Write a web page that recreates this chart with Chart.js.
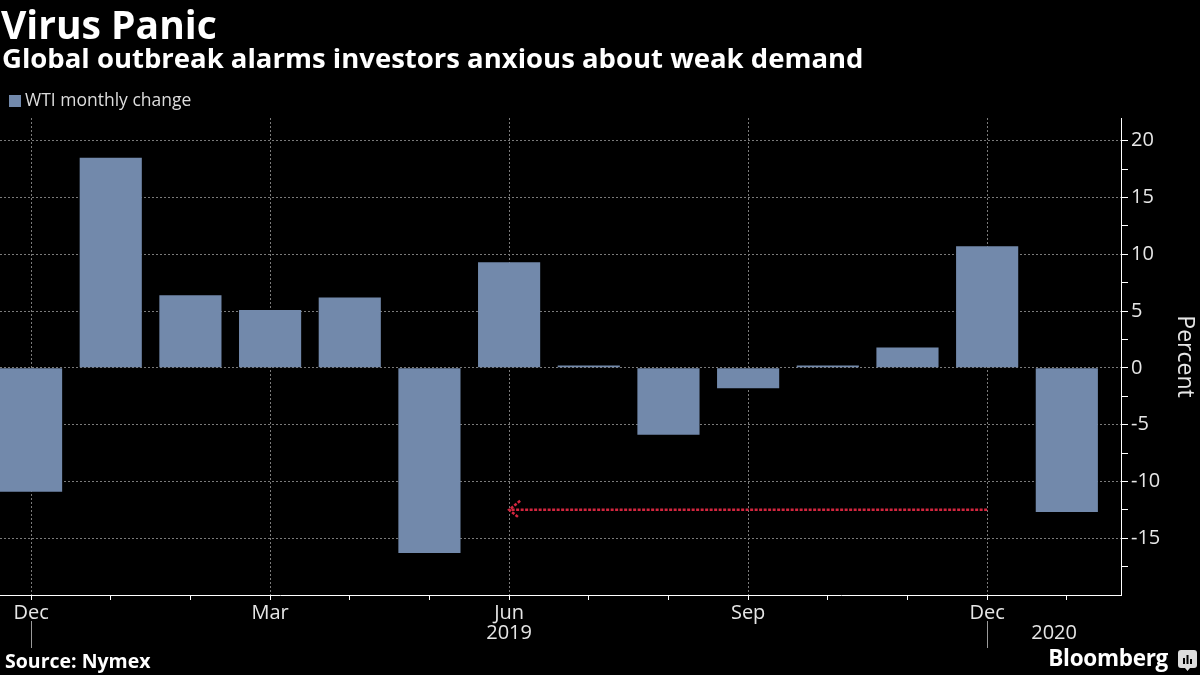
<!DOCTYPE html>
<html>
<head>
<meta charset="utf-8">
<script src="https://cdn.jsdelivr.net/npm/chart.js@4.4.1/dist/chart.umd.min.js"></script>
<style>
  html, body { margin: 0; padding: 0; background: #000; }
  #wrap { position: relative; width: 1200px; height: 675px; overflow: hidden; background: #000;
          font-family: 'Open Sans', sans-serif; color: #fff; }
  #main-chart { position: absolute; left: 0; top: 0; }
  .txt { position: absolute; white-space: nowrap; line-height: 1; }
  #title { left: 1px; top: 4px; font-size: 39px; font-weight: 700; }
  #subtitle { left: 2px; top: 44px; font-size: 27.5px; font-weight: 700; }
  #legend { left: 9px; top: 91px; font-size: 17.5px; color: #ddd; }
  #legend i { display: inline-block; width: 12px; height: 12px; background: #7289ab; margin-right: 4px; vertical-align: -1px; }
  #source { left: 5px; top: 651px; font-size: 19.5px; font-weight: 700; }
  #brand { right: 32px; top: 647px; font-size: 22.5px; font-weight: 700; letter-spacing: -0.3px; }
  #logo { position: absolute; left: 1178px; top: 650px; }
</style>
</head>
<body>
<div id="wrap">
  <canvas id="main-chart" width="1200" height="675"></canvas>
  <div class="txt" id="title">Virus Panic</div>
  <div class="txt" id="subtitle">Global outbreak alarms investors anxious about weak demand</div>
  <div class="txt" id="legend"><i></i>WTI monthly change</div>
  <div class="txt" id="source">Source: Nymex</div>
  <div class="txt" id="brand">Bloomberg</div>
  <svg id="logo" width="19" height="22" viewBox="0 0 19 22">
    <path d="M3 0h13a3 3 0 0 1 3 3v12a3 3 0 0 1-3 3h-4l-2.5 3-2.5-3H3a3 3 0 0 1-3-3V3a3 3 0 0 1 3-3z" fill="#ddd"/>
    <rect x="5" y="8" width="2" height="6" fill="#000"/>
    <rect x="8.5" y="5" width="2" height="9" fill="#000"/>
    <rect x="12" y="9" width="2" height="5" fill="#000"/>
  </svg>
</div>
<script>
// Month-end points, Dec 2018 .. Jan 2020
const months = ['Dec', 'Jan', 'Feb', 'Mar', 'Apr', 'May', 'Jun', 'Jul', 'Aug', 'Sep', 'Oct', 'Nov', 'Dec', 'Jan'];
const xTickLabels = ['Dec', '', '', 'Mar', '', '', 'Jun', '', '', 'Sep', '', '', 'Dec', ''];
const wtiChange = [-10.9, 18.5, 6.4, 5.1, 6.2, -16.3, 9.3, 0.2, -5.9, -1.8, 0.2, 1.8, 10.7, -12.7];

// year labels sit centred on their span of the axis
const yearLabels = ['2019', '2020'];
const yearStarts = [0, 12];

const yTicks = [-17.5, -15, -12.5, -10, -7.5, -5, -2.5, 0, 2.5, 5, 7.5, 10, 12.5, 15, 17.5, 20];
const yTickLabels = [-15, -10, -5, 0, 5, 10, 15, 20];

// red dotted arrow (Dec 2019 back to Jun 2019)
const arrowPoints = [{ x: 12, y: -12.5 }, { x: 6, y: -12.5 }];

const BAR = '#7289ab';
const RED = '#d3263f';
const GRID = '#7a7a7a';
const TXT = '#e6e6e6';
const NONE = 'rgba(0,0,0,0)';
const FONT = "'Open Sans', sans-serif";

const yearPlugin = {
  id: 'years',
  afterDraw(chart) {
    const { ctx, scales: { x } } = chart;
    ctx.save();
    ctx.font = `20px ${FONT}`;
    ctx.fillStyle = TXT;
    ctx.textAlign = 'center';
    ctx.textBaseline = 'middle';
    yearLabels.forEach((label, i) => {
      const start = x.getPixelForValue(yearStarts[i]);
      const end = i + 1 < yearStarts.length ? x.getPixelForValue(yearStarts[i + 1]) : x.right;
      ctx.fillText(label, (start + end) / 2, 633);
      ctx.strokeStyle = '#9a9a9a';
      ctx.lineWidth = 1;
      ctx.beginPath();
      ctx.moveTo(Math.round(start) + 0.5, 621);
      ctx.lineTo(Math.round(start) + 0.5, 648);
      ctx.stroke();
    });
    ctx.restore();
  }
};

const arrowHeadPlugin = {
  id: 'arrowHead',
  afterDatasetsDraw(chart) {
    const { ctx, scales: { x, y } } = chart;
    const tip = arrowPoints[arrowPoints.length - 1];
    const px = x.getPixelForValue(tip.x);
    const py = y.getPixelForValue(tip.y);
    ctx.save();
    ctx.strokeStyle = RED;
    ctx.lineWidth = 2.5;
    ctx.setLineDash([3, 1.5]);
    ctx.beginPath();
    ctx.moveTo(px + 11, py - 9);
    ctx.lineTo(px, py);
    ctx.lineTo(px + 10, py + 8);
    ctx.stroke();
    ctx.restore();
  }
};

new Chart(document.getElementById('main-chart'), {
  type: 'bar',
  data: {
    datasets: [
      {
        type: 'bar',
        label: 'WTI monthly change',
        data: wtiChange.map((v, i) => ({ x: i, y: v })),
        backgroundColor: BAR,
        barPercentage: 0.78,
        categoryPercentage: 1,
        order: 2,
      },
      {
        type: 'line',
        label: 'arrow',
        data: arrowPoints,
        borderColor: RED,
        borderWidth: 2.5,
        borderDash: [3, 1.5],
        pointRadius: 0,
        fill: false,
        order: 1,
      }
    ]
  },
  options: {
    responsive: false,
    animation: false,
    layout: { padding: { top: 118, left: 0, right: 0, bottom: 0 } },
    plugins: { legend: { display: false }, tooltip: { enabled: false } },
    scales: {
      x: {
        type: 'linear',
        position: 'bottom',
        min: -0.39,
        max: 13.68,
        offset: false,
        afterBuildTicks: (s) => { s.ticks = months.map((m, i) => ({ value: i })); },
        afterFit: (s) => { s.height = 80; },
        ticks: {
          autoSkip: false,
          maxRotation: 0,
          padding: 1,
          color: TXT,
          font: { family: FONT, size: 20 },
          callback: (v) => xTickLabels[v] || '',
        },
        grid: {
          offset: false,
          color: (c) => (c.tick && xTickLabels[c.tick.value]) ? GRID : NONE,
          tickColor: '#fff',
          tickLength: 5,
          lineWidth: 1,
        },
        border: { color: '#fff', width: 1, dash: [2, 2] },
      },
      y: {
        type: 'linear',
        position: 'right',
        min: -20,
        max: 22,
        afterBuildTicks: (s) => { s.ticks = yTicks.map(v => ({ value: v })); },
        afterFit: (s) => { s.width = 79; },
        ticks: {
          padding: 3,
          color: TXT,
          font: { family: FONT, size: 20 },
          callback: (v) => yTickLabels.includes(v) ? String(v) : '',
        },
        grid: {
          color: (c) => (c.tick && yTickLabels.includes(c.tick.value)) ? GRID : NONE,
          tickColor: '#fff',
          tickLength: 7,
          lineWidth: 1,
        },
        border: { color: '#fff', width: 1, dash: [2, 2] },
        title: {
          display: true,
          text: 'Percent',
          color: TXT,
          font: { family: FONT, size: 23 },
          padding: { top: 2, bottom: 0 },
        },
      }
    }
  },
  plugins: [yearPlugin, arrowHeadPlugin]
});
</script>
</body>
</html>
